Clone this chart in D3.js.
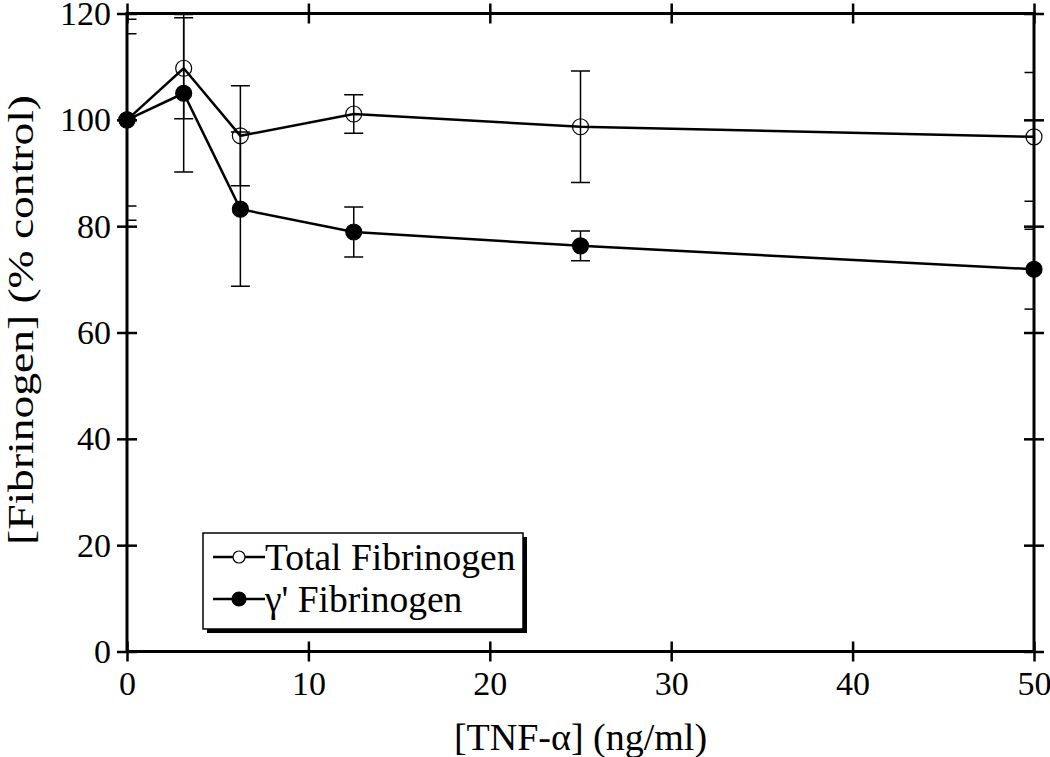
<!DOCTYPE html>
<html>
<head>
<meta charset="utf-8">
<script src="https://cdn.jsdelivr.net/npm/d3@7"></script>
<style>
  body { margin: 0; background: #fff; }
  svg { display: block; }
</style>
</head>
<body>
<script>
// TNF-alpha dose (ng/ml)
var doses = [0, 3.125, 6.25, 12.5, 25, 50];
// Total fibrinogen, % control, with error
var totalMean = [100, 109.7, 97.0, 101.1, 98.7, 96.8];
var totalErr  = [16.2, 9.5, 9.4, 3.6, 10.5, 12.1];
// gamma' fibrinogen, % control, with error
var gammaMean = [100, 105.0, 83.2, 78.9, 76.3, 71.9];
var gammaErr  = [18.9, 14.8, 14.5, 4.7, 2.8, 7.5];

var xTicks = [0, 10, 20, 30, 40, 50];
var yTicks = [0, 20, 40, 60, 80, 100, 120];
var seriesNames = ["Total Fibrinogen", "\u03b3' Fibrinogen"];

var SERIF = "Times New Roman, Liberation Serif, Times, serif";
var W = 1050, H = 757;
var margin = {top: 13.5, right: 16, bottom: 105.5, left: 127};
var w = W - margin.left - margin.right,
    h = H - margin.top - margin.bottom;

var svg = d3.select("body").append("svg")
    .attr("width", W).attr("height", H);

var g = svg.append("g").attr("transform", "translate(" + margin.left + "," + margin.top + ")");

var x = d3.scaleLinear().domain([0, 50]).range([0, w]);
var y = d3.scaleLinear().domain([0, 120]).range([h, 0]);

//clip for error bars
svg.append("defs").append("clipPath").attr("id", "plotclip")
  .append("rect").attr("width", w).attr("height", h);

//building series rows
function rows(mean, err) {
  return doses.map(function(d, i) { return {x: d, y: mean[i], e: err[i]}; });
}
var series = [
  {name: seriesNames[0], data: rows(totalMean, totalErr), fill: "none"},
  {name: seriesNames[1], data: rows(gammaMean, gammaErr), fill: "#000"}
];

//error bars
var eb = g.append("g").attr("clip-path", "url(#plotclip)");
series.forEach(function(s) {
  s.data.forEach(function(d) {
    var cx = x(d.x), y1 = y(d.y + d.e), y2 = y(d.y - d.e);
    eb.append("line").attr("x1", cx).attr("x2", cx).attr("y1", y1).attr("y2", y2)
      .attr("stroke", "#000").attr("stroke-width", 1.5);
    [y1, y2].forEach(function(yy) {
      eb.append("line").attr("x1", cx - 9.5).attr("x2", cx + 9.5).attr("y1", yy).attr("y2", yy)
        .attr("stroke", "#000").attr("stroke-width", 1.5);
    });
  });
});

//lines
var line = d3.line().x(function(d) { return x(d.x); }).y(function(d) { return y(d.y); });
series.forEach(function(s) {
  g.append("path").datum(s.data).attr("d", line)
    .attr("fill", "none").attr("stroke", "#000").attr("stroke-width", 2.5);
});

//axes with crossing ticks
function noLabel() { return ""; }
g.append("g").attr("transform", "translate(0," + h + ")")
  .call(d3.axisBottom(x).tickValues(xTicks).tickSize(10).tickPadding(9).tickFormat(d3.format("d")));
g.append("g").attr("transform", "translate(0," + h + ")")
  .call(d3.axisBottom(x).tickValues(xTicks).tickSize(-10).tickFormat(noLabel));
g.append("g").call(d3.axisTop(x).tickValues(xTicks).tickSize(10).tickFormat(noLabel));
g.append("g").call(d3.axisTop(x).tickValues(xTicks).tickSize(-10).tickFormat(noLabel));
g.append("g")
  .call(d3.axisLeft(y).tickValues(yTicks).tickSize(10).tickPadding(6).tickFormat(d3.format("d")));
g.append("g").call(d3.axisLeft(y).tickValues(yTicks).tickSize(-10).tickFormat(noLabel));
g.append("g").attr("transform", "translate(" + w + ",0)")
  .call(d3.axisRight(y).tickValues(yTicks).tickSize(10).tickFormat(noLabel));
g.append("g").attr("transform", "translate(" + w + ",0)")
  .call(d3.axisRight(y).tickValues(yTicks).tickSize(-10).tickFormat(noLabel));

g.selectAll(".domain").remove();
g.selectAll(".tick line").attr("stroke", "#000").attr("stroke-width", 2.5);
g.selectAll(".tick text").attr("font-size", 34).attr("font-family", SERIF);

g.append("rect").attr("width", w).attr("height", h)
  .attr("fill", "none").attr("stroke", "#000").attr("stroke-width", 3);

//markers
series.forEach(function(s) {
  g.selectAll(null).data(s.data).enter().append("circle")
    .attr("cx", function(d) { return x(d.x); })
    .attr("cy", function(d) { return y(d.y); })
    .attr("r", 8)
    .attr("fill", s.fill)
    .attr("stroke", "#000").attr("stroke-width", 1.2);
});

//axis titles
svg.append("text").attr("x", margin.left + w / 2).attr("y", 750)
  .attr("text-anchor", "middle").attr("font-family", SERIF).attr("font-size", 38)
  .text("[TNF-\u03b1] (ng/ml)");
// y title is stretched along its length in the original
svg.append("text").attr("transform", "translate(33,320) rotate(-90)")
  .attr("text-anchor", "middle").attr("font-family", SERIF).attr("font-size", 36)
  .attr("textLength", 450).attr("lengthAdjust", "spacingAndGlyphs")
  .text("[Fibrinogen] (% control)");

//legend
var lg = svg.append("g").attr("transform", "translate(203,533)");
lg.append("rect").attr("x", 4).attr("y", 4).attr("width", 320).attr("height", 96).attr("fill", "#000");
lg.append("rect").attr("width", 320).attr("height", 96).attr("fill", "#fff")
  .attr("stroke", "#000").attr("stroke-width", 1.5);
series.forEach(function(s, i) {
  var ly = 24 + i * 42;
  lg.append("line").attr("x1", 10).attr("x2", 62).attr("y1", ly).attr("y2", ly)
    .attr("stroke", "#000").attr("stroke-width", 2.5);
  lg.append("circle").attr("cx", 36).attr("cy", ly).attr("r", i === 0 ? 6 : 7)
    .attr("fill", i === 0 ? "#fff" : "#000").attr("stroke", "#000").attr("stroke-width", 1.2);
  lg.append("text").attr("x", 62).attr("y", ly).attr("dy", "0.35em")
    .attr("font-family", SERIF).attr("font-size", 37.5).text(s.name);
});
</script>
</body>
</html>
